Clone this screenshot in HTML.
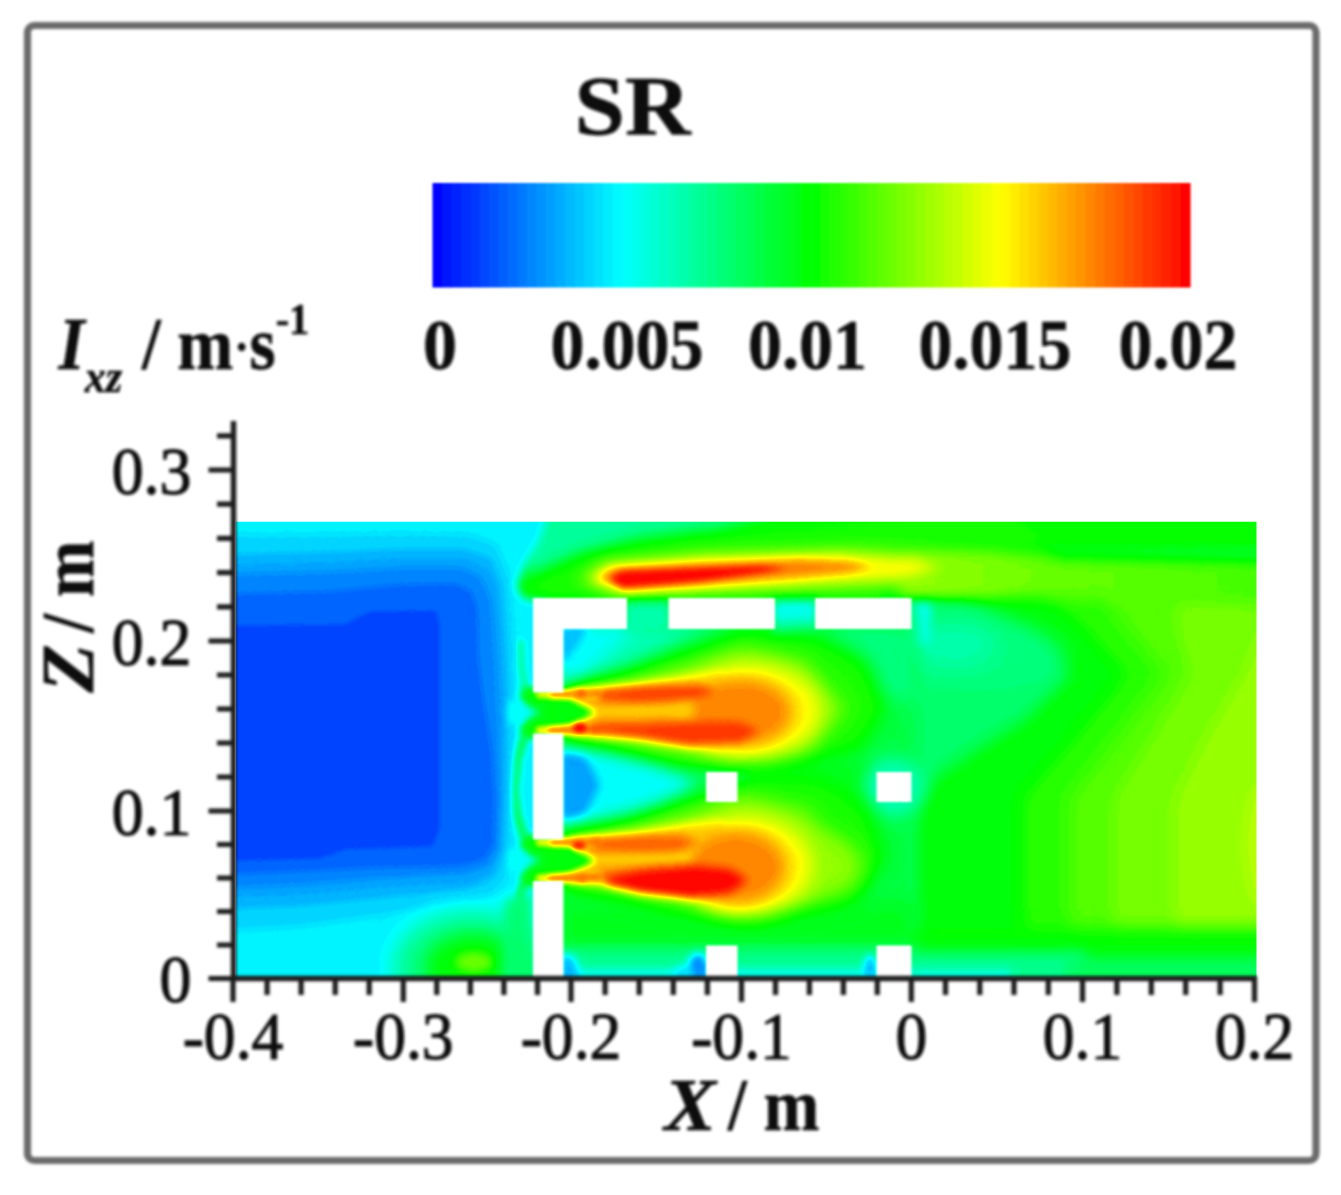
<!DOCTYPE html>
<html lang="en"><head><meta charset="utf-8"><title>SR contour</title>
<style>html,body{margin:0;padding:0;background:#fff}body{width:1341px;height:1195px;overflow:hidden}svg{display:block}text{font-family:"Liberation Serif",serif;fill:#111}</style></head>
<body>
<svg width="1341" height="1195" viewBox="0 0 1341 1195">
<defs><filter id="b2" x="-50%" y="-50%" width="200%" height="200%" color-interpolation-filters="sRGB"><feGaussianBlur stdDeviation="2"/></filter><filter id="b3" x="-50%" y="-50%" width="200%" height="200%" color-interpolation-filters="sRGB"><feGaussianBlur stdDeviation="3"/></filter><filter id="b4" x="-50%" y="-50%" width="200%" height="200%" color-interpolation-filters="sRGB"><feGaussianBlur stdDeviation="4"/></filter><filter id="b5" x="-50%" y="-50%" width="200%" height="200%" color-interpolation-filters="sRGB"><feGaussianBlur stdDeviation="5"/></filter><filter id="b6" x="-50%" y="-50%" width="200%" height="200%" color-interpolation-filters="sRGB"><feGaussianBlur stdDeviation="6"/></filter><filter id="b7" x="-50%" y="-50%" width="200%" height="200%" color-interpolation-filters="sRGB"><feGaussianBlur stdDeviation="7"/></filter><filter id="b8" x="-50%" y="-50%" width="200%" height="200%" color-interpolation-filters="sRGB"><feGaussianBlur stdDeviation="8"/></filter><filter id="b9" x="-50%" y="-50%" width="200%" height="200%" color-interpolation-filters="sRGB"><feGaussianBlur stdDeviation="9"/></filter><filter id="b10" x="-50%" y="-50%" width="200%" height="200%" color-interpolation-filters="sRGB"><feGaussianBlur stdDeviation="10"/></filter><filter id="b12" x="-50%" y="-50%" width="200%" height="200%" color-interpolation-filters="sRGB"><feGaussianBlur stdDeviation="12"/></filter><filter id="b2_5" x="-50%" y="-50%" width="200%" height="200%" color-interpolation-filters="sRGB"><feGaussianBlur stdDeviation="2.5"/></filter><filter id="cmap" x="0" y="0" width="100%" height="100%" color-interpolation-filters="sRGB"><feComponentTransfer><feFuncR type="discrete" tableValues="0.0078 0.0234 0.0391 0.0547 0.0703 0.0859 0.1016 0.1172 0.1328 0.1484 0.1641 0.1797 0.1953 0.2109 0.2266 0.2422 0.2578 0.2734 0.2891 0.3047 0.3203 0.3359 0.3516 0.3672 0.3828 0.3984 0.4141 0.4297 0.4453 0.4609 0.4766 0.4922 0.5078 0.5234 0.5391 0.5547 0.5703 0.5859 0.6016 0.6172 0.6328 0.6484 0.6641 0.6797 0.6953 0.7109 0.7266 0.7422 0.7578 0.7734 0.7891 0.8047 0.8203 0.8359 0.8516 0.8672 0.8828 0.8984 0.9141 0.9297 0.9453 0.9609 0.9766 0.9922"/><feFuncG type="discrete" tableValues="0.0078 0.0234 0.0391 0.0547 0.0703 0.0859 0.1016 0.1172 0.1328 0.1484 0.1641 0.1797 0.1953 0.2109 0.2266 0.2422 0.2578 0.2734 0.2891 0.3047 0.3203 0.3359 0.3516 0.3672 0.3828 0.3984 0.4141 0.4297 0.4453 0.4609 0.4766 0.4922 0.5078 0.5234 0.5391 0.5547 0.5703 0.5859 0.6016 0.6172 0.6328 0.6484 0.6641 0.6797 0.6953 0.7109 0.7266 0.7422 0.7578 0.7734 0.7891 0.8047 0.8203 0.8359 0.8516 0.8672 0.8828 0.8984 0.9141 0.9297 0.9453 0.9609 0.9766 0.9922"/><feFuncB type="discrete" tableValues="0.0078 0.0234 0.0391 0.0547 0.0703 0.0859 0.1016 0.1172 0.1328 0.1484 0.1641 0.1797 0.1953 0.2109 0.2266 0.2422 0.2578 0.2734 0.2891 0.3047 0.3203 0.3359 0.3516 0.3672 0.3828 0.3984 0.4141 0.4297 0.4453 0.4609 0.4766 0.4922 0.5078 0.5234 0.5391 0.5547 0.5703 0.5859 0.6016 0.6172 0.6328 0.6484 0.6641 0.6797 0.6953 0.7109 0.7266 0.7422 0.7578 0.7734 0.7891 0.8047 0.8203 0.8359 0.8516 0.8672 0.8828 0.8984 0.9141 0.9297 0.9453 0.9609 0.9766 0.9922"/></feComponentTransfer><feGaussianBlur stdDeviation="0.9"/><feComponentTransfer><feFuncR type="table" tableValues="0 0 0 1 1"/><feFuncG type="table" tableValues="0 1 1 1 0"/><feFuncB type="table" tableValues="1 1 0 0 0"/></feComponentTransfer></filter><filter id="soft" x="-5%" y="-5%" width="110%" height="110%"><feGaussianBlur stdDeviation="1.1"/></filter><filter id="softl" x="-5%" y="-5%" width="110%" height="110%"><feGaussianBlur stdDeviation="1.6"/></filter><filter id="softt" x="-5%" y="-5%" width="110%" height="110%"><feGaussianBlur stdDeviation="1.4"/></filter><filter id="softw" x="-5%" y="-5%" width="110%" height="110%"><feGaussianBlur stdDeviation="1.6"/></filter><clipPath id="clip"><rect x="236.0" y="521.5" width="1020.5" height="457.0"/></clipPath><linearGradient id="cb" x1="0" y1="0" x2="1" y2="0"><stop offset="0" stop-color="#0000ff"/><stop offset="0.25" stop-color="#00ffff"/><stop offset="0.5" stop-color="#00ff00"/><stop offset="0.75" stop-color="#ffff00"/><stop offset="1" stop-color="#ff0000"/></linearGradient></defs>
<rect width="1341" height="1195" fill="#fff"/>
<rect x="27.5" y="25.5" width="1288.5" height="1135" rx="7" ry="7" fill="none" stroke="#6a6a6a" stroke-width="7.2" filter="url(#softw)"/>
<g filter="url(#soft)">
<rect x="432.50" y="183" width="10.07" height="104.5" fill="rgb(0,6,255)"/>
<rect x="441.97" y="183" width="10.07" height="104.5" fill="rgb(0,19,255)"/>
<rect x="451.44" y="183" width="10.07" height="104.5" fill="rgb(0,32,255)"/>
<rect x="460.91" y="183" width="10.07" height="104.5" fill="rgb(0,45,255)"/>
<rect x="470.38" y="183" width="10.07" height="104.5" fill="rgb(0,57,255)"/>
<rect x="479.84" y="183" width="10.07" height="104.5" fill="rgb(0,70,255)"/>
<rect x="489.31" y="183" width="10.07" height="104.5" fill="rgb(0,83,255)"/>
<rect x="498.78" y="183" width="10.07" height="104.5" fill="rgb(0,96,255)"/>
<rect x="508.25" y="183" width="10.07" height="104.5" fill="rgb(0,108,255)"/>
<rect x="517.72" y="183" width="10.07" height="104.5" fill="rgb(0,121,255)"/>
<rect x="527.19" y="183" width="10.07" height="104.5" fill="rgb(0,134,255)"/>
<rect x="536.66" y="183" width="10.07" height="104.5" fill="rgb(0,147,255)"/>
<rect x="546.12" y="183" width="10.07" height="104.5" fill="rgb(0,159,255)"/>
<rect x="555.59" y="183" width="10.07" height="104.5" fill="rgb(0,172,255)"/>
<rect x="565.06" y="183" width="10.07" height="104.5" fill="rgb(0,185,255)"/>
<rect x="574.53" y="183" width="10.07" height="104.5" fill="rgb(0,198,255)"/>
<rect x="584.00" y="183" width="10.07" height="104.5" fill="rgb(0,210,255)"/>
<rect x="593.47" y="183" width="10.07" height="104.5" fill="rgb(0,223,255)"/>
<rect x="602.94" y="183" width="10.07" height="104.5" fill="rgb(0,236,255)"/>
<rect x="612.41" y="183" width="10.07" height="104.5" fill="rgb(0,249,255)"/>
<rect x="621.88" y="183" width="10.07" height="104.5" fill="rgb(0,255,249)"/>
<rect x="631.34" y="183" width="10.07" height="104.5" fill="rgb(0,255,236)"/>
<rect x="640.81" y="183" width="10.07" height="104.5" fill="rgb(0,255,223)"/>
<rect x="650.28" y="183" width="10.07" height="104.5" fill="rgb(0,255,210)"/>
<rect x="659.75" y="183" width="10.07" height="104.5" fill="rgb(0,255,198)"/>
<rect x="669.22" y="183" width="10.07" height="104.5" fill="rgb(0,255,185)"/>
<rect x="678.69" y="183" width="10.07" height="104.5" fill="rgb(0,255,172)"/>
<rect x="688.16" y="183" width="10.07" height="104.5" fill="rgb(0,255,159)"/>
<rect x="697.62" y="183" width="10.07" height="104.5" fill="rgb(0,255,147)"/>
<rect x="707.09" y="183" width="10.07" height="104.5" fill="rgb(0,255,134)"/>
<rect x="716.56" y="183" width="10.07" height="104.5" fill="rgb(0,255,121)"/>
<rect x="726.03" y="183" width="10.07" height="104.5" fill="rgb(0,255,108)"/>
<rect x="735.50" y="183" width="10.07" height="104.5" fill="rgb(0,255,96)"/>
<rect x="744.97" y="183" width="10.07" height="104.5" fill="rgb(0,255,83)"/>
<rect x="754.44" y="183" width="10.07" height="104.5" fill="rgb(0,255,70)"/>
<rect x="763.91" y="183" width="10.07" height="104.5" fill="rgb(0,255,57)"/>
<rect x="773.38" y="183" width="10.07" height="104.5" fill="rgb(0,255,45)"/>
<rect x="782.84" y="183" width="10.07" height="104.5" fill="rgb(0,255,32)"/>
<rect x="792.31" y="183" width="10.07" height="104.5" fill="rgb(0,255,19)"/>
<rect x="801.78" y="183" width="10.07" height="104.5" fill="rgb(0,255,6)"/>
<rect x="811.25" y="183" width="10.07" height="104.5" fill="rgb(6,255,0)"/>
<rect x="820.72" y="183" width="10.07" height="104.5" fill="rgb(19,255,0)"/>
<rect x="830.19" y="183" width="10.07" height="104.5" fill="rgb(32,255,0)"/>
<rect x="839.66" y="183" width="10.07" height="104.5" fill="rgb(45,255,0)"/>
<rect x="849.12" y="183" width="10.07" height="104.5" fill="rgb(57,255,0)"/>
<rect x="858.59" y="183" width="10.07" height="104.5" fill="rgb(70,255,0)"/>
<rect x="868.06" y="183" width="10.07" height="104.5" fill="rgb(83,255,0)"/>
<rect x="877.53" y="183" width="10.07" height="104.5" fill="rgb(96,255,0)"/>
<rect x="887.00" y="183" width="10.07" height="104.5" fill="rgb(108,255,0)"/>
<rect x="896.47" y="183" width="10.07" height="104.5" fill="rgb(121,255,0)"/>
<rect x="905.94" y="183" width="10.07" height="104.5" fill="rgb(134,255,0)"/>
<rect x="915.41" y="183" width="10.07" height="104.5" fill="rgb(147,255,0)"/>
<rect x="924.88" y="183" width="10.07" height="104.5" fill="rgb(159,255,0)"/>
<rect x="934.34" y="183" width="10.07" height="104.5" fill="rgb(172,255,0)"/>
<rect x="943.81" y="183" width="10.07" height="104.5" fill="rgb(185,255,0)"/>
<rect x="953.28" y="183" width="10.07" height="104.5" fill="rgb(198,255,0)"/>
<rect x="962.75" y="183" width="10.07" height="104.5" fill="rgb(210,255,0)"/>
<rect x="972.22" y="183" width="10.07" height="104.5" fill="rgb(223,255,0)"/>
<rect x="981.69" y="183" width="10.07" height="104.5" fill="rgb(236,255,0)"/>
<rect x="991.16" y="183" width="10.07" height="104.5" fill="rgb(249,255,0)"/>
<rect x="1000.62" y="183" width="10.07" height="104.5" fill="rgb(255,249,0)"/>
<rect x="1010.09" y="183" width="10.07" height="104.5" fill="rgb(255,236,0)"/>
<rect x="1019.56" y="183" width="10.07" height="104.5" fill="rgb(255,223,0)"/>
<rect x="1029.03" y="183" width="10.07" height="104.5" fill="rgb(255,210,0)"/>
<rect x="1038.50" y="183" width="10.07" height="104.5" fill="rgb(255,198,0)"/>
<rect x="1047.97" y="183" width="10.07" height="104.5" fill="rgb(255,185,0)"/>
<rect x="1057.44" y="183" width="10.07" height="104.5" fill="rgb(255,172,0)"/>
<rect x="1066.91" y="183" width="10.07" height="104.5" fill="rgb(255,159,0)"/>
<rect x="1076.38" y="183" width="10.07" height="104.5" fill="rgb(255,147,0)"/>
<rect x="1085.84" y="183" width="10.07" height="104.5" fill="rgb(255,134,0)"/>
<rect x="1095.31" y="183" width="10.07" height="104.5" fill="rgb(255,121,0)"/>
<rect x="1104.78" y="183" width="10.07" height="104.5" fill="rgb(255,108,0)"/>
<rect x="1114.25" y="183" width="10.07" height="104.5" fill="rgb(255,96,0)"/>
<rect x="1123.72" y="183" width="10.07" height="104.5" fill="rgb(255,83,0)"/>
<rect x="1133.19" y="183" width="10.07" height="104.5" fill="rgb(255,70,0)"/>
<rect x="1142.66" y="183" width="10.07" height="104.5" fill="rgb(255,57,0)"/>
<rect x="1152.12" y="183" width="10.07" height="104.5" fill="rgb(255,45,0)"/>
<rect x="1161.59" y="183" width="10.07" height="104.5" fill="rgb(255,32,0)"/>
<rect x="1171.06" y="183" width="10.07" height="104.5" fill="rgb(255,19,0)"/>
<rect x="1180.53" y="183" width="10.07" height="104.5" fill="rgb(255,6,0)"/>
</g>
<g clip-path="url(#clip)"><g filter="url(#cmap)">
<rect x="196.0" y="481.5" width="1100.5" height="537.0" fill="rgb(128,128,128)"/>
<rect x="880.0" y="500.0" width="420.0" height="500.0" fill="rgb(103,103,103)" />
<path d="M950.0,590.0 L1027.0,629.0 L1069.0,674.0 L1027.0,719.0 L979.0,749.0 L935.0,778.0 L914.0,808.0 L914.0,1000.0 L1300.0,1000.0 L1300.0,590.0Z" fill="rgb(127,127,127)" filter="url(#b8)" />
<path d="M1039.0,590.0 L1087.0,629.0 L1128.0,674.0 L1075.0,740.0 L1024.0,798.0 L1024.0,1000.0 L1300.0,1000.0 L1300.0,590.0Z" fill="rgb(139,139,139)" filter="url(#b8)" />
<path d="M1099.0,590.0 L1128.0,629.0 L1165.0,674.0 L1115.0,740.0 L1069.0,798.0 L1069.0,1000.0 L1300.0,1000.0 L1300.0,590.0Z" fill="rgb(149,149,149)" filter="url(#b8)" />
<path d="M1176.0,590.0 L1176.0,629.0 L1190.0,674.0 L1150.0,740.0 L1113.0,798.0 L1113.0,1000.0 L1300.0,1000.0 L1300.0,590.0Z" fill="rgb(158,158,158)" filter="url(#b8)" />
<path d="M1300.0,610.0 L1262.0,629.0 L1244.0,674.0 L1205.0,740.0 L1175.0,798.0 L1175.0,1000.0 L1300.0,1000.0Z" fill="rgb(166,166,166)" filter="url(#b8)" />
<ellipse cx="1264.0" cy="845.0" rx="18.0" ry="60.0" fill="rgb(175,175,175)" filter="url(#b8)" />
<ellipse cx="985.0" cy="658.0" rx="80.0" ry="34.0" fill="rgb(97,97,97)" filter="url(#b12)" />
<ellipse cx="955.0" cy="645.0" rx="42.0" ry="24.0" fill="rgb(86,86,86)" filter="url(#b10)" />
<path d="M905.0,596.0 L931.0,596.0 L929.0,644.0 L905.0,650.0Z" fill="rgb(66,66,66)" filter="url(#b5)" />
<rect x="540.0" y="600.0" width="375.0" height="400.0" fill="rgb(112,112,112)" filter="url(#b8)" />
<rect x="520.0" y="500.0" width="780.0" height="52.0" fill="rgb(131,131,131)" filter="url(#b8)" />
<path d="M525.0,510.0 L790.0,510.0 L720.0,527.0 L640.0,537.0 L580.0,552.0 L545.0,568.0 L525.0,575.0Z" fill="rgb(90,90,90)" filter="url(#b7)" />
<rect x="905.0" y="928.0" width="395.0" height="72.0" fill="rgb(128,128,128)" filter="url(#b8)" />
<rect x="905.0" y="952.0" width="180.0" height="48.0" fill="rgb(92,92,92)" filter="url(#b7)" />
<rect x="905.0" y="970.0" width="105.0" height="30.0" fill="rgb(70,70,70)" filter="url(#b4)" />
<rect x="1065.0" y="957.0" width="235.0" height="43.0" fill="rgb(104,104,104)" filter="url(#b7)" />
<path d="M200,480 L552,480 L546,521 L538,543 L525,566 L517,586 L524,598 L545,600 L545,688 L531,690 L526,712 L531,735 L545,737 L545,836 L531,838 L526,860 L531,883 L545,885 L545,1000 L200,1000 Z" fill="rgb(61,61,61)" filter="url(#b4)" />
<path d="M524,738 L517,760 L514,790 L517,815 L524,836" fill="rgb(0,0,0)" filter="url(#b3)" fill-opacity="0" stroke="rgb(112,112,112)" stroke-width="8"/>
<path d="M526,688 L521,668 L520,640" fill="rgb(0,0,0)" filter="url(#b3)" fill-opacity="0" stroke="rgb(92,92,92)" stroke-width="7"/>
<path d="M524,884 L518,900" fill="rgb(0,0,0)" filter="url(#b3)" fill-opacity="0" stroke="rgb(110,110,110)" stroke-width="8"/>
<path d="M200.0,536.0 L330.0,535.0 L400.0,534.0 L470.0,535.0 L496.0,545.0 L508.0,575.0 L512.0,620.0 L514.0,690.0 L511.0,712.0 L514.0,735.0 L512.0,800.0 L511.0,850.0 L505.0,880.0 L485.0,900.0 L439.0,906.0 L380.0,915.0 L300.0,926.0 L200.0,932.0Z" fill="rgb(54,54,54)" filter="url(#b3)" />
<path d="M200.0,556.0 L330.0,553.0 L400.0,550.0 L465.0,550.0 L490.0,559.0 L501.0,585.0 L505.0,640.0 L507.0,700.0 L505.0,800.0 L503.0,850.0 L495.0,876.0 L470.0,888.0 L439.0,891.0 L380.0,897.0 L300.0,905.0 L200.0,909.0Z" fill="rgb(44,44,44)" filter="url(#b3)" />
<path d="M200.0,573.0 L330.0,570.0 L400.0,566.0 L462.0,566.0 L483.0,576.0 L493.0,600.0 L497.0,650.0 L499.0,700.0 L500.0,800.0 L498.0,850.0 L488.0,868.0 L465.0,875.0 L439.0,876.0 L380.0,880.0 L300.0,887.0 L200.0,891.0Z" fill="rgb(35,35,35)" filter="url(#b3)" />
<path d="M200.0,594.0 L330.0,591.0 L400.0,584.0 L455.0,583.0 L472.0,591.0 L478.0,610.0 L479.0,660.0 L484.0,700.0 L492.0,750.0 L495.0,800.0 L494.0,845.0 L484.0,860.0 L460.0,866.0 L439.0,867.0 L380.0,868.0 L300.0,872.0 L200.0,876.0Z" fill="rgb(26,26,26)" filter="url(#b3)" />
<path d="M200.0,626.0 L345.0,625.0 L370.0,612.0 L436.0,611.0 L439.0,625.0 L439.0,830.0 L432.0,846.0 L345.0,849.0 L320.0,858.0 L200.0,861.0Z" fill="rgb(17,17,17)" filter="url(#b2)" />
<ellipse cx="472.0" cy="966.0" rx="78.0" ry="54.0" fill="rgb(98,98,98)" filter="url(#b12)" />
<ellipse cx="474.0" cy="966.0" rx="48.0" ry="32.0" fill="rgb(126,126,126)" filter="url(#b8)" />
<ellipse cx="474.0" cy="962.0" rx="19.0" ry="10.0" fill="rgb(156,156,156)" filter="url(#b5)" />
<path d="M505,900 L532,890 L532,1000 L500,1000 Z" fill="rgb(100,100,100)" filter="url(#b6)" />
<path d="M560,742 L600,748 L660,765 L705,785 L660,808 L600,822 L560,828 Z" fill="rgb(66,66,66)" filter="url(#b8)" />
<path d="M560,750 L585,755 L600,785 L585,815 L560,822 Z" fill="rgb(40,40,40)" filter="url(#b5)" />
<path d="M560.0,626.0 L735.0,626.0 L690.0,640.0 L640.0,662.0 L600.0,680.0 L560.0,690.0Z" fill="rgb(84,84,84)" filter="url(#b8)" />
<path d="M560,626 L640,626 L600,660 L575,690 L560,692 Z" fill="rgb(66,66,66)" filter="url(#b8)" />
<path d="M560,626 L590,626 L568,660 L560,665 Z" fill="rgb(48,48,48)" filter="url(#b4)" />
<rect x="625.0" y="594.0" width="45.0" height="38.0" fill="rgb(86,86,86)" filter="url(#b5)" />
<rect x="773.0" y="594.0" width="44.0" height="42.0" fill="rgb(68,68,68)" filter="url(#b5)" />
<path d="M780,628 L915,628 L915,700 L880,700 L830,670 Z" fill="rgb(96,96,96)" filter="url(#b10)" />
<rect x="560.0" y="900.0" width="355.0" height="50.0" fill="rgb(120,120,120)" filter="url(#b8)" />
<rect x="560.0" y="948.0" width="355.0" height="52.0" fill="rgb(94,94,94)" filter="url(#b6)" />
<rect x="560.0" y="968.0" width="355.0" height="32.0" fill="rgb(70,70,70)" filter="url(#b4)" />
<path d="M560.0,952.0 L576.0,958.0 L580.0,985.0 L560.0,985.0Z" fill="rgb(46,46,46)" filter="url(#b4)" />
<ellipse cx="698.0" cy="968.0" rx="10.0" ry="15.0" fill="rgb(34,34,34)" filter="url(#b4)" />
<ellipse cx="684.0" cy="974.0" rx="10.0" ry="8.0" fill="rgb(56,56,56)" filter="url(#b4)" />
<ellipse cx="870.0" cy="968.0" rx="7.0" ry="13.0" fill="rgb(50,50,50)" filter="url(#b3)" />
<rect x="745.0" y="764.0" width="127.0" height="42.0" fill="rgb(122,122,122)" filter="url(#b7)" />
<ellipse cx="894.0" cy="787.0" rx="30.0" ry="30.0" fill="rgb(84,84,84)" filter="url(#b8)" />
<ellipse cx="721.0" cy="787.0" rx="26.0" ry="24.0" fill="rgb(100,100,100)" filter="url(#b8)" />
<path d="M524.0,592.0 L545.0,576.0 L580.0,562.0 L620.0,552.0 L704.0,542.0 L800.0,534.0 L900.0,524.0 L1010.0,520.0 L1060.0,560.0 L1010.0,596.0 L800.0,597.0 L620.0,597.0 L560.0,597.0Z" fill="rgb(134,134,134)" filter="url(#b7)" />
<path d="M575.0,580.0 L600.0,561.0 L700.0,551.0 L860.0,547.0 L990.0,556.0 L1040.0,570.0 L990.0,586.0 L860.0,590.0 L700.0,593.0 L610.0,595.0Z" fill="rgb(160,160,160)" filter="url(#b8)" />
<linearGradient id="gr2" gradientUnits="userSpaceOnUse" x1="880" y1="0" x2="1256" y2="0"><stop offset="0" stop-color="rgb(168,168,168)"/><stop offset="0.45" stop-color="rgb(154,154,154)"/><stop offset="1" stop-color="rgb(146,146,146)"/></linearGradient>
<path d="M900,556 L1000,556 L1300,560 L1300,606 L1100,600 L1000,597 L900,595 Z" fill="url(#gr2)" filter="url(#b7)"/>
<path d="M588.0,579.0 L608.0,565.0 L700.0,558.0 L840.0,554.0 L915.0,560.0 L940.0,568.0 L900.0,578.0 L840.0,582.0 L700.0,589.0 L620.0,592.0Z" fill="rgb(192,192,192)" filter="url(#b6)" />
<path d="M598.0,578.0 L614.0,568.0 L700.0,563.0 L800.0,559.0 L850.0,562.0 L872.0,567.0 L850.0,572.0 L800.0,577.0 L700.0,585.0 L626.0,590.0Z" fill="rgb(222,222,222)" filter="url(#b4)" />
<path d="M609.0,578.0 L622.0,571.0 L700.0,568.0 L760.0,566.0 L790.0,568.0 L760.0,573.0 L700.0,581.0 L640.0,586.0 L622.0,587.0Z" fill="rgb(255,255,255)" filter="url(#b3)" />
<path d="M560.0,688.0 L629.0,672.0 L690.0,648.0 L740.0,630.0 L818.0,632.0 L868.0,660.0 L886.0,708.0 L860.0,750.0 L788.0,769.0 L699.0,767.0 L629.0,751.0 L560.0,737.0Z" fill="rgb(136,136,136)" filter="url(#b10)" />
<path d="M566.0,690.0 L629.0,680.0 L690.0,664.0 L744.0,647.0 L806.0,662.0 L846.0,709.0 L810.0,750.0 L729.0,761.0 L669.0,753.0 L629.0,744.0 L566.0,735.0Z" fill="rgb(164,164,164)" filter="url(#b9)" />
<path d="M568.0,691.0 L629.0,684.0 L690.0,674.0 L720.0,672.0 L735.0,690.0 L735.0,735.0 L720.0,750.0 L690.0,748.0 L629.0,739.0 L568.0,733.0Z" fill="rgb(196,196,196)" filter="url(#b4)" />
<path d="M574.0,692.0 L640.0,688.0 L690.0,682.0 L715.0,682.0 L728.0,695.0 L728.0,732.0 L715.0,743.0 L690.0,743.0 L640.0,735.0 L574.0,731.0Z" fill="rgb(216,216,216)" filter="url(#b4)" />
<ellipse cx="750.0" cy="711.0" rx="70.0" ry="46.0" fill="rgb(196,196,196)" filter="url(#b10)" />
<ellipse cx="740.0" cy="712.0" rx="52.0" ry="34.0" fill="rgb(222,222,222)" filter="url(#b8)" />
<path d="M522.0,686.0 L563.0,691.0 L575.0,702.0 L598.0,712.5 L575.0,723.0 L563.0,734.0 L522.0,740.0 L520.0,727.0 L534.0,712.5 L520.0,699.0Z" fill="rgb(124,124,124)" filter="url(#b3)" />
<path d="M508.0,700.0 L522.0,704.0 L540.0,712.5 L522.0,721.0 L508.0,725.0Z" fill="rgb(66,66,66)" filter="url(#b3)" />
<path d="M536.0,727.0 L556.0,725.5 L585.0,722.0 L600.0,723.0 L600.0,733.0 L585.0,734.5 L556.0,734.5 L536.0,734.5Z" fill="rgb(198,198,198)" filter="url(#b2_5)" />
<path d="M548.0,728.0 L600.0,725.0 L600.0,732.5 L548.0,733.5Z" fill="rgb(228,228,228)" filter="url(#b2_5)" />
<path d="M536.0,690.5 L556.0,690.5 L570.0,690.5 L600.0,689.0 L600.0,699.0 L570.0,699.5 L556.0,699.0 L536.0,697.5Z" fill="rgb(194,194,194)" filter="url(#b2_5)" />
<path d="M550.0,691.5 L600.0,690.0 L600.0,697.5 L550.0,697.0Z" fill="rgb(224,224,224)" filter="url(#b2_5)" />
<path d="M592.0,708.0 L640.0,705.0 L690.0,706.0 L690.0,714.0 L640.0,716.0 L592.0,716.0Z" fill="rgb(202,202,202)" filter="url(#b4)" />
<path d="M600.0,691.0 L640.0,687.0 L700.0,685.0 L716.0,691.0 L700.0,699.0 L640.0,702.0 L600.0,700.0Z" fill="rgb(240,240,240)" filter="url(#b4)" />
<path d="M590.0,724.0 L640.0,724.0 L690.0,721.0 L740.0,722.0 L760.0,731.0 L740.0,742.0 L690.0,745.0 L640.0,737.0 L590.0,732.0Z" fill="rgb(242,242,242)" filter="url(#b4)" />
<ellipse cx="581.0" cy="694.0" rx="5.0" ry="4.0" fill="rgb(230,230,230)" filter="url(#b2)" />
<ellipse cx="580.0" cy="728.0" rx="7.0" ry="5.0" fill="rgb(255,255,255)" filter="url(#b2)" />
<path d="M560.0,836.0 L629.0,820.0 L690.0,796.0 L740.0,778.0 L818.0,780.0 L868.0,808.0 L886.0,856.0 L860.0,898.0 L788.0,917.0 L699.0,915.0 L629.0,899.0 L560.0,885.0Z" fill="rgb(136,136,136)" filter="url(#b10)" />
<path d="M566.0,838.0 L629.0,828.0 L690.0,812.0 L744.0,795.0 L806.0,810.0 L846.0,857.0 L810.0,898.0 L729.0,909.0 L669.0,901.0 L629.0,892.0 L566.0,883.0Z" fill="rgb(164,164,164)" filter="url(#b9)" />
<ellipse cx="812.0" cy="867.0" rx="50.0" ry="32.0" fill="rgb(164,164,164)" filter="url(#b10)" />
<path d="M568.0,839.0 L629.0,832.0 L690.0,822.0 L720.0,820.0 L735.0,838.0 L735.0,883.0 L720.0,898.0 L690.0,896.0 L629.0,887.0 L568.0,881.0Z" fill="rgb(196,196,196)" filter="url(#b4)" />
<path d="M574.0,840.0 L640.0,836.0 L690.0,830.0 L715.0,830.0 L728.0,843.0 L728.0,880.0 L715.0,891.0 L690.0,891.0 L640.0,883.0 L574.0,879.0Z" fill="rgb(216,216,216)" filter="url(#b4)" />
<ellipse cx="746.0" cy="866.0" rx="66.0" ry="49.5" fill="rgb(196,196,196)" filter="url(#b10)" />
<ellipse cx="736.0" cy="867.0" rx="50.0" ry="36.8" fill="rgb(222,222,222)" filter="url(#b8)" />
<path d="M522.0,834.0 L563.0,839.0 L575.0,850.0 L598.0,860.5 L575.0,871.0 L563.0,882.0 L522.0,888.0 L520.0,875.0 L534.0,860.5 L520.0,847.0Z" fill="rgb(124,124,124)" filter="url(#b3)" />
<path d="M508.0,848.0 L522.0,852.0 L540.0,860.5 L522.0,869.0 L508.0,873.0Z" fill="rgb(66,66,66)" filter="url(#b3)" />
<path d="M536.0,875.0 L556.0,873.5 L585.0,870.0 L600.0,871.0 L600.0,881.0 L585.0,882.5 L556.0,882.5 L536.0,882.5Z" fill="rgb(198,198,198)" filter="url(#b2_5)" />
<path d="M548.0,876.0 L600.0,873.0 L600.0,880.5 L548.0,881.5Z" fill="rgb(228,228,228)" filter="url(#b2_5)" />
<path d="M536.0,838.5 L556.0,838.5 L570.0,838.5 L600.0,837.0 L600.0,847.0 L570.0,847.5 L556.0,847.0 L536.0,845.5Z" fill="rgb(194,194,194)" filter="url(#b2_5)" />
<path d="M550.0,839.5 L600.0,838.0 L600.0,845.5 L550.0,845.0Z" fill="rgb(224,224,224)" filter="url(#b2_5)" />
<path d="M592.0,856.0 L640.0,853.0 L690.0,854.0 L690.0,862.0 L640.0,864.0 L592.0,864.0Z" fill="rgb(202,202,202)" filter="url(#b4)" />
<path d="M592.0,840.0 L640.0,837.0 L680.0,837.0 L700.0,842.0 L680.0,850.0 L640.0,851.0 L592.0,849.0Z" fill="rgb(232,232,232)" filter="url(#b4)" />
<path d="M600.0,877.0 L640.0,870.0 L690.0,865.0 L730.0,869.0 L748.0,880.0 L730.0,893.0 L690.0,898.0 L640.0,893.0 L610.0,885.0Z" fill="rgb(255,255,255)" filter="url(#b5)" />
<ellipse cx="579.0" cy="845.5" rx="7.0" ry="4.0" fill="rgb(250,250,250)" filter="url(#b2)" />
<ellipse cx="582.0" cy="878.0" rx="6.0" ry="4.0" fill="rgb(225,225,225)" filter="url(#b2)" />
</g></g>
<g fill="#fff" filter="url(#soft)">
<rect x="533" y="598" width="30.5" height="94.5"/>
<rect x="533" y="598" width="94" height="31"/>
<rect x="668.5" y="598" width="106.5" height="31"/>
<rect x="815" y="598" width="96.5" height="31"/>
<rect x="533" y="733.5" width="30.5" height="106.0"/>
<rect x="533" y="881" width="30.5" height="100"/>
<rect x="706" y="772" width="31.5" height="30"/>
<rect x="876.5" y="772" width="35.0" height="30"/>
<rect x="706" y="945.5" width="31.5" height="35.5"/>
<rect x="876.5" y="945.5" width="35.0" height="35.5"/>
</g>
<rect x="231.0" y="509.5" width="1032.5" height="12" fill="#fff"/>
<g stroke="#1c1c1c" stroke-width="5.4" stroke-linecap="butt" fill="none" filter="url(#softl)">
<path d="M233.5,421 V980.6 M231.4,978.5 H1257"/>
<path d="M233,978.5 V1002 M267.1,978.5 V995 M301.1,978.5 V995 M335.2,978.5 V995 M369.2,978.5 V995 M403.3,978.5 V1002 M436.8,978.5 V995 M470.4,978.5 V995 M503.9,978.5 V995 M537.5,978.5 V995 M571,978.5 V1002 M605.1,978.5 V995 M639.2,978.5 V995 M673.3,978.5 V995 M707.4,978.5 V995 M741.5,978.5 V1002 M775.5,978.5 V995 M809.4,978.5 V995 M843.4,978.5 V995 M877.3,978.5 V995 M911.3,978.5 V1002 M945.5,978.5 V995 M979.8,978.5 V995 M1014.0,978.5 V995 M1048.3,978.5 V995 M1082.5,978.5 V1002 M1116.9,978.5 V995 M1151.3,978.5 V995 M1185.7,978.5 V995 M1220.1,978.5 V995 M1254.5,978.5 V1002 " stroke-width="5.2"/>
<path d="M233.5,978.5 H208.5 M233.5,945.0 H217 M233.5,911.5 H217 M233.5,878.0 H217 M233.5,844.5 H217 M233.5,811 H208.5 M233.5,777.0 H217 M233.5,743.0 H217 M233.5,709.0 H217 M233.5,675.0 H217 M233.5,641 H208.5 M233.5,606.8 H217 M233.5,572.6 H217 M233.5,538.4 H217 M233.5,504.2 H217 M233.5,470 H208.5 M233.5,435.9 H217 " stroke-width="5.2"/>
</g>
<g filter="url(#softt)" stroke="#111" stroke-width="0.6">
<text transform="translate(233.0 1059.0) scale(1.025 1.08)" font-size="62" text-anchor="middle" font-weight="normal" font-style="normal"  stroke="#111" stroke-width="1.1">-0.4</text>
<text transform="translate(403.3 1059.0) scale(1.025 1.08)" font-size="62" text-anchor="middle" font-weight="normal" font-style="normal"  stroke="#111" stroke-width="1.1">-0.3</text>
<text transform="translate(571.0 1059.0) scale(1.025 1.08)" font-size="62" text-anchor="middle" font-weight="normal" font-style="normal"  stroke="#111" stroke-width="1.1">-0.2</text>
<text transform="translate(741.5 1059.0) scale(1.025 1.08)" font-size="62" text-anchor="middle" font-weight="normal" font-style="normal"  stroke="#111" stroke-width="1.1">-0.1</text>
<text transform="translate(911.3 1059.0) scale(1.025 1.08)" font-size="62" text-anchor="middle" font-weight="normal" font-style="normal"  stroke="#111" stroke-width="1.1">0</text>
<text transform="translate(1082.5 1059.0) scale(1.025 1.08)" font-size="62" text-anchor="middle" font-weight="normal" font-style="normal"  stroke="#111" stroke-width="1.1">0.1</text>
<text transform="translate(1254.5 1059.0) scale(1.025 1.08)" font-size="62" text-anchor="middle" font-weight="normal" font-style="normal"  stroke="#111" stroke-width="1.1">0.2</text>
<text transform="translate(191.5 1002.5) scale(1.03 1.08)" font-size="62" text-anchor="end" font-weight="normal" font-style="normal"  stroke="#111" stroke-width="1.1">0</text>
<text transform="translate(191.5 835.0) scale(1.03 1.08)" font-size="62" text-anchor="end" font-weight="normal" font-style="normal"  stroke="#111" stroke-width="1.1">0.1</text>
<text transform="translate(191.5 665.0) scale(1.03 1.08)" font-size="62" text-anchor="end" font-weight="normal" font-style="normal"  stroke="#111" stroke-width="1.1">0.2</text>
<text transform="translate(191.5 494.0) scale(1.03 1.08)" font-size="62" text-anchor="end" font-weight="normal" font-style="normal"  stroke="#111" stroke-width="1.1">0.3</text>
<text transform="translate(632.5 135.0) scale(1.055 0.985)" font-size="86" text-anchor="middle" font-weight="bold" font-style="normal"  stroke="#111" stroke-width="0.6">SR</text>
<text transform="translate(440.0 368.5) scale(1.03 1.1)" font-size="66" text-anchor="middle" font-weight="bold" font-style="normal"  stroke="#111" stroke-width="0.6">0</text>
<text transform="translate(627.0 368.5) scale(1.03 1.1)" font-size="66" text-anchor="middle" font-weight="bold" font-style="normal"  stroke="#111" stroke-width="0.6">0.005</text>
<text transform="translate(807.5 368.5) scale(1.03 1.1)" font-size="66" text-anchor="middle" font-weight="bold" font-style="normal"  stroke="#111" stroke-width="0.6">0.01</text>
<text transform="translate(995.0 368.5) scale(1.03 1.1)" font-size="66" text-anchor="middle" font-weight="bold" font-style="normal"  stroke="#111" stroke-width="0.6">0.015</text>
<text transform="translate(1178.0 368.5) scale(1.03 1.1)" font-size="66" text-anchor="middle" font-weight="bold" font-style="normal"  stroke="#111" stroke-width="0.6">0.02</text>
<text transform="translate(58.5 369) scale(0.96 1.06)" font-size="70" font-weight="bold"><tspan font-style="italic">I</tspan><tspan font-style="italic" font-size="44" dy="22">xz</tspan><tspan dy="-22" dx="3"> / m</tspan><tspan font-size="46" dy="-6" dx="1">·</tspan><tspan dy="6" dx="0.5">s</tspan><tspan font-size="42" dy="-33" dx="0">-1</tspan></text>
<text transform="translate(664.3 1130) scale(1.108 1.05)" font-size="70" font-weight="bold" font-style="italic">X</text>
<text transform="translate(728 1130) scale(0.958 1.05)" font-size="70" font-weight="bold">/ m</text>
<text transform="translate(92.5 692.6) rotate(-90) scale(1.134 1.06)" font-size="70" font-weight="bold" font-style="italic">Z</text>
<text transform="translate(92.5 632.7) rotate(-90) scale(0.968 1.06)" font-size="70" font-weight="bold">/ m</text>
</g>
</svg>
</body></html>
